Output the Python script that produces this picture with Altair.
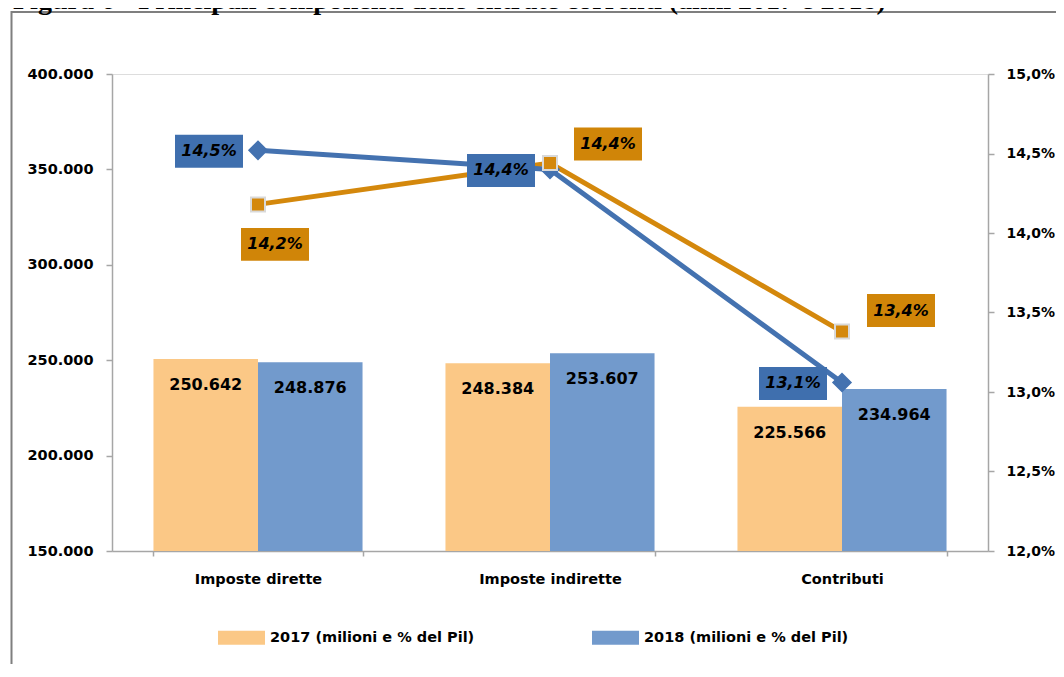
import altair as alt
import pandas as pd

# ---------------- data ----------------
categories = ["Imposte dirette", "Imposte indirette", "Contributi"]
series_labels = ["2017 (milioni e % del Pil)", "2018 (milioni e % del Pil)"]
amounts_2017 = [250642, 248384, 225566]
amounts_2018 = [248876, 253607, 234964]
share_2017 = [0.1418, 0.1444, 0.1338]
share_2018 = [0.1452, 0.1440, 0.1306]
left_ticks = [150000, 200000, 250000, 300000, 350000, 400000]
right_ticks = [0.12, 0.125, 0.13, 0.135, 0.14, 0.145, 0.15]
title_text = "Figura 6 - Principali componenti delle entrate correnti (anni 2017 e 2018)"

rows = []
for s, amounts, shares in [(series_labels[0], amounts_2017, share_2017),
                           (series_labels[1], amounts_2018, share_2018)]:
    for c, a, p in zip(categories, amounts, shares):
        rows.append({"categoria": c, "serie": s, "valore": a, "pil": p})
df = pd.DataFrame(rows)

# ---------------- styles ----------------
FONT = "DejaVu Sans"
AXIS_GRAY = "#A6A6A6"
bar_colors = ["#FBC886", "#729ACC"]
line_colors = ["#D4880C", "#4472B0"]
box_colors = ["#D08508", "#3F6FAE"]
marker_shapes = ["square", "diamond"]
marker_sizes = [196, 300]
marker_strokes = ["#D9D9D9", "#4472B0"]
# label placement (pixel offsets from the point), like Excel's label positions
label_offsets = {
    series_labels[0]: [(17, 40), (58, -19), (59, -21)],
    series_labels[1]: [(-49, 1), (-49, 1), (-49, 1)],
}
BOX_PATH = "M-1,-0.485H1V0.485H-1Z"
SWATCH_PATH = "M-1,-0.3H1V0.3H-1Z"

base = alt.Chart(df)

x_enc = alt.X(
    "categoria:N", sort=categories, title=None,
    scale=alt.Scale(paddingInner=0.284, paddingOuter=0.142),
    axis=alt.Axis(labelAngle=0, labelFont=FONT, labelFontSize=14.5, labelFontWeight="bold",
                  labelColor="black", domainColor=AXIS_GRAY, domainWidth=1.5,
                  tickColor=AXIS_GRAY, tickWidth=1.5, tickSize=5, tickBand="extent",
                  labelPadding=16),
)
xoff_enc = alt.XOffset("serie:N", sort=series_labels,
                       scale=alt.Scale(paddingInner=0, paddingOuter=0))

left_axis = alt.Axis(values=left_ticks, grid=False,
                     labelExpr="replace(format(datum.value, ',.0f'), ',', '.')",
                     labelFont=FONT, labelFontSize=14.5, labelFontWeight="bold",
                     labelColor="black", domainColor=AXIS_GRAY, domainWidth=1.5,
                     tickColor=AXIS_GRAY, tickWidth=1.5, tickSize=6, labelPadding=13)
right_axis = alt.Axis(orient="right", values=right_ticks, grid=False,
                      labelExpr="replace(format(datum.value, '.1%'), '.', ',')",
                      labelFont=FONT, labelFontSize=14, labelFontWeight="bold",
                      labelColor="black", domainColor=AXIS_GRAY, domainWidth=1.5,
                      tickColor=AXIS_GRAY, tickWidth=1.5, tickSize=6, labelPadding=12)

y_left = alt.Y("valore:Q", title=None,
               scale=alt.Scale(domain=[150000, 400000], nice=False, zero=False),
               axis=left_axis)
y_right = alt.Y("pil:Q", title=None,
                scale=alt.Scale(domain=[0.12, 0.15], nice=False, zero=False),
                axis=right_axis)

legend = alt.Legend(orient="none", legendX=106, legendY=540, direction="horizontal",
                    symbolType=SWATCH_PATH, symbolSize=2209, symbolStrokeWidth=0,
                    symbolOpacity=1, labelFont=FONT, labelFontSize=14.5,
                    labelFontWeight="bold", labelColor="black", labelLimit=400,
                    labelOffset=5, columnPadding=117)

# ---------------- decorations ----------------
one = alt.Chart(pd.DataFrame({"t": [title_text]}))
frame = one.mark_rect(fillOpacity=0, stroke="#7F7F7F", strokeWidth=2).encode(
    x=alt.value(-100.5), x2=alt.value(1000), y=alt.value(-62), y2=alt.value(700))
title_mark = one.mark_text(font="Liberation Serif", fontSize=28, fontWeight="bold",
                           align="left", baseline="alphabetic", color="black").encode(
    x=alt.value(-99), y=alt.value(-65), text="t:N")

# ---------------- bars ----------------
bars = base.mark_bar().encode(
    x=x_enc, xOffset=xoff_enc, y=y_left, y2=alt.datum(150000),
    color=alt.Color("serie:N", title=None,
                    scale=alt.Scale(domain=series_labels, range=bar_colors),
                    legend=legend),
)
bar_text = base.transform_calculate(
    lbl="replace(format(datum.valore, ',.0f'), ',', '.')"
).mark_text(font=FONT, fontSize=16, fontWeight="bold", color="black",
            baseline="middle", dy=26).encode(
    x=x_enc, xOffset=xoff_enc, y=y_left, text="lbl:N")

left_group = alt.layer(frame, title_mark, bars, bar_text)

# ---------------- lines (% del Pil) ----------------
line_layers, marker_layers, box_layers, text_layers = [], [], [], []
for i, s in enumerate(series_labels):
    sel = base.transform_filter(alt.datum.serie == s)
    line_layers.append(sel.mark_line(color=line_colors[i], strokeWidth=5).encode(x=x_enc, y=y_right))
    marker_layers.append(sel.mark_point(shape=marker_shapes[i], size=marker_sizes[i], filled=True,
                                        fill=line_colors[i], stroke=marker_strokes[i],
                                        strokeWidth=2, opacity=1).encode(x=x_enc, y=y_right))
    for c, (dx, dy) in zip(categories, label_offsets[s]):
        pt = base.transform_filter((alt.datum.serie == s) & (alt.datum.categoria == c))
        box_layers.append(pt.mark_point(shape=BOX_PATH, size=4624, filled=True, fill=box_colors[i],
                                        strokeWidth=0, opacity=1, xOffset=dx, yOffset=dy)
                          .encode(x=x_enc, y=y_right))
        text_layers.append(pt.transform_calculate(
            plbl="replace(format(datum.pil, '.1%'), '.', ',')"
        ).mark_text(font=FONT, fontSize=16, fontWeight="bold", fontStyle="italic",
                    color="black", baseline="middle", dx=dx, dy=dy).encode(
            x=x_enc, y=y_right, text="plbl:N"))

right_group = alt.layer(*line_layers, *marker_layers[::-1], *box_layers, *text_layers)

chart = alt.layer(left_group, right_group).resolve_scale(y="independent").properties(
    width=876, height=477,
    autosize=alt.AutoSizeParams(type="none"),
    padding={"left": 104, "top": 66, "right": 68, "bottom": 113},
).configure_view(stroke=None, fill="#F1EFF3").configure(background="white")

chart.save("out.html", embed_options={"renderer": "svg", "actions": False})
